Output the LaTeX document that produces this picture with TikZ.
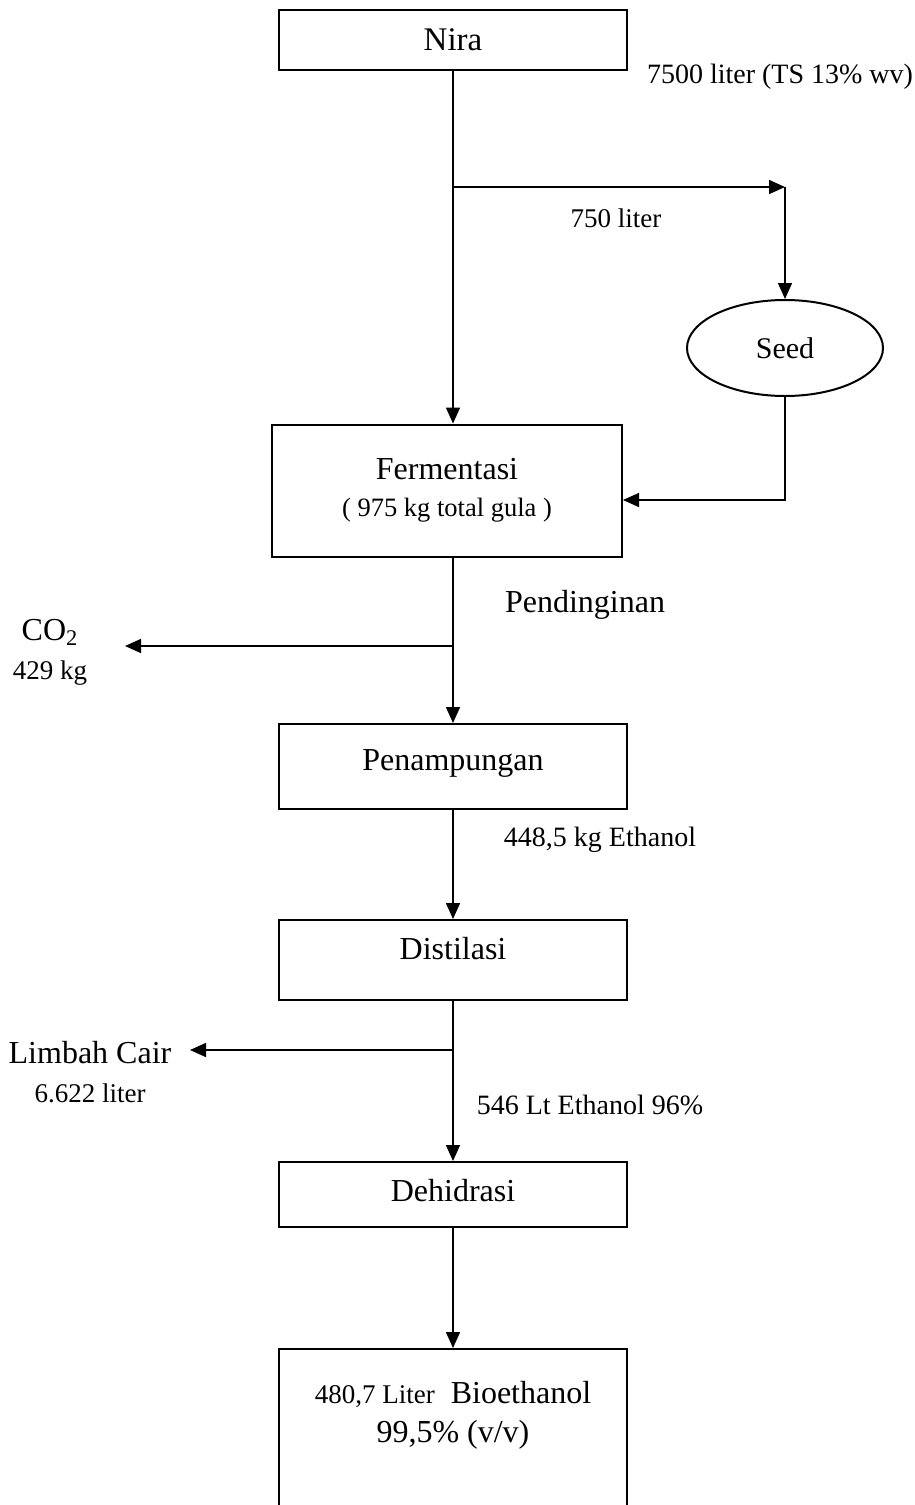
\documentclass[tikz,border=0pt]{standalone}
\usepackage{fontspec}
\setmainfont{Liberation Serif}
\usetikzlibrary{positioning,arrows.meta,shapes.geometric}
\tikzset{
  flow box/.style={
    draw=black,
    line width=1pt,
    align=center,
    font=\fontsize{16}{19.5}\selectfont,
    inner sep=0pt,
    minimum width=174pt
  },
  flow seed/.style={flow box, ellipse, minimum width=98pt, minimum height=48pt, font=\fontsize{15}{18}\selectfont},
  flow arrow/.style={-{Triangle[length=8pt,width=7pt]}, line width=0.75pt},
  flow line/.style={line width=0.75pt},
  flow label/.style={font=\fontsize{14}{17}\selectfont, align=center, inner sep=0pt},
  flow big/.style={font=\fontsize{16}{19.5}\selectfont, align=center, inner sep=0pt}
}
\newcommand{\flowsmall}{\fontsize{13.5}{16}\selectfont}

\begin{document}
\begin{tikzpicture}[x=0.5pt, y=-0.5pt]
\fill[white] (0,0) rectangle (915,1505);
\clip (0,0) rectangle (915,1505);
% process boxes
\node[flow box, minimum height=30pt, text depth=0pt, font=\fontsize{16.5}{20}\selectfont] (nira) at (453,40) {Nira};
\node[flow box, minimum width=175pt, minimum height=66pt] (ferm) at (447,490.5)
  {Fermentasi\\[-1pt]{\fontsize{13.25}{16}\selectfont ( 975 kg total gula )}};
\node[flow box, minimum height=42.5pt, text depth=6pt] (tampung) at (453,766.5) {Penampungan};
\node[flow box, minimum height=40pt, text depth=12pt] (distil) at (453,960) {Distilasi};
\node[flow box, minimum height=32.5pt, text depth=4.5pt] (dehid) at (453,1194.5) {Dehidrasi};
\node[flow box, anchor=north, inner ysep=16pt, text depth=60pt] (bioet) at (453,1348)
  {{\flowsmall 480,7 Liter}\ \ Bioethanol\\99,5\% (v/v)};
\node[flow seed] (seed) at (785,348) {Seed};
% labels
\node[flow label] (lnira) at (780,77) {7500 liter (TS 13\% wv)};
\node[flow label, font=\flowsmall] (lseed) at (616,218) {750 liter};
\node[flow big] (ldingin) at (585,605) {Pendinginan};
\node[flow big] (co2) at (50,652) {CO\textsubscript{2}\\{\flowsmall 429 kg}};
\node[flow label] (ltampung) at (600,840) {448,5 kg Ethanol};
\node[flow big] (limbah) at (90,1072) {Limbah Cair\\{\flowsmall 6.622 liter}};
\node[flow label] (ldistil) at (590,1105) {546 Lt Ethanol 96\%};
% branch points
\coordinate (split) at (453,187);
\coordinate (seedtop) at (785,187);
\coordinate (co2split) at (453,646);
\coordinate (co2tip) at (125,646);
\coordinate (limbahsplit) at (453,1050);
\coordinate (limbahtip) at (190,1050);
% connectors
\draw[flow arrow] (nira.south) -- (nira.south |- ferm.north);
\draw[flow arrow] (split) -- (seedtop);
\draw[flow arrow] (seedtop) -- (seed.north);
\draw[flow arrow] (seed.south) |- (ferm.east |- 0,500);
\draw[flow arrow] (tampung.north |- ferm.south) -- (tampung.north);
\draw[flow arrow] (co2split) -- (co2tip);
\draw[flow arrow] (tampung.south) -- (distil.north);
\draw[flow arrow] (distil.south) -- (dehid.north);
\draw[flow arrow] (limbahsplit) -- (limbahtip);
\draw[flow arrow] (dehid.south) -- (bioet.north);
\end{tikzpicture}
\end{document}
